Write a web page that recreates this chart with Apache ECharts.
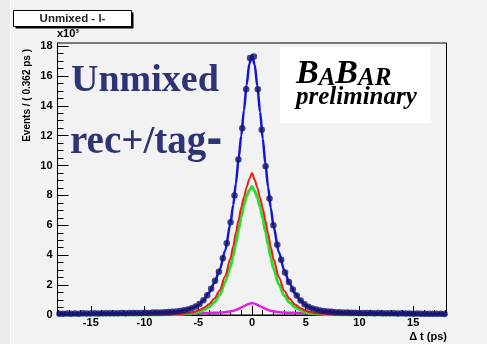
<!DOCTYPE html>
<html>
<head>
<meta charset="utf-8">
<script src="https://cdn.jsdelivr.net/npm/echarts@6/dist/echarts.min.js"></script>
<style>
  html, body { margin: 0; padding: 0; background: #f2f2f2; }
  #chart { width: 487px; height: 344px; }
</style>
</head>
<body>
<div id="chart"></div>
<script>
// histogram binning: 100 bins of 0.362 ps between -18.1 and 18.1
const binLow = -18.1;
const binWidth = 0.362;

// events per bin (x10^3)
const events = [
    0.09, 0.08, 0.10, 0.09, 0.10, 0.09, 0.11, 0.10, 0.10, 0.11,
    0.10, 0.11, 0.12, 0.11, 0.12, 0.12, 0.13, 0.12, 0.13, 0.14,
    0.13, 0.14, 0.15, 0.14, 0.16, 0.17, 0.17, 0.19, 0.20, 0.22,
    0.24, 0.27, 0.31, 0.37, 0.45, 0.57, 0.74, 0.98, 1.32, 1.75,
    2.30, 2.90, 3.80, 4.80, 6.20, 8.00, 10.40, 12.50, 15.10, 17.20,
    17.30, 15.10, 12.40, 9.95, 7.80, 6.00, 4.70, 3.70, 2.85, 2.20,
    1.70, 1.30, 0.97, 0.72, 0.55, 0.43, 0.36, 0.30, 0.26, 0.23,
    0.21, 0.19, 0.18, 0.17, 0.16, 0.15, 0.15, 0.14, 0.13, 0.14,
    0.13, 0.12, 0.13, 0.12, 0.11, 0.12, 0.11, 0.10, 0.11, 0.10,
    0.10, 0.09, 0.10, 0.09, 0.09, 0.08, 0.09, 0.08, 0.08, 0.07
];

// fitted curves sampled at these Δt values
const curveX = [
    -18.1, -16, -14, -12, -10, -9, -8, -7, -6, -5.5, -5, -4.5, -4, -3.5, -3, -2.5,
    -2, -1.75, -1.5, -1.25, -1, -0.75, -0.5, -0.25, 0, 0.25, 0.5, 0.75, 1, 1.25,
    1.5, 1.75, 2, 2.5, 3, 3.5, 4, 4.5, 5, 5.5, 6, 7, 8, 9, 10, 12, 14, 16, 18.1
];
const totalFit = [
    0.08, 0.09, 0.11, 0.12, 0.14, 0.16, 0.19, 0.24, 0.36, 0.48, 0.67, 0.99, 1.5, 2.15, 3.05, 4.3,
    6.15, 7.35, 8.8, 10.45, 12.0, 13.7, 15.4, 16.8, 17.4, 16.75, 15.3, 13.6, 11.8, 10.1,
    8.55, 7.15, 5.95, 4.2, 3.0, 2.1, 1.45, 0.98, 0.66, 0.47, 0.35, 0.23, 0.19, 0.16, 0.14, 0.12, 0.10, 0.09, 0.07
];
const redFit = [
    0, 0, 0, 0.005, 0.01, 0.015, 0.02, 0.05, 0.12, 0.19, 0.3, 0.47, 0.72, 1.1, 1.65, 2.6,
    3.8, 4.6, 5.5, 6.35, 7.2, 7.9, 8.55, 9.1, 9.5, 9.05, 8.5, 7.85, 7.15, 6.3,
    5.45, 4.55, 3.75, 2.55, 1.62, 1.08, 0.7, 0.46, 0.29, 0.18, 0.11, 0.05, 0.02, 0.015, 0.01, 0.005, 0, 0, 0
];
const greenFit = [
    0, 0, 0, 0, 0, 0.005, 0.01, 0.03, 0.08, 0.13, 0.2, 0.34, 0.53, 0.85, 1.35, 2.2,
    3.25, 3.95, 4.8, 5.7, 6.55, 7.35, 7.95, 8.35, 8.6, 8.3, 7.85, 7.25, 6.45, 5.6,
    4.7, 3.85, 3.1, 2.05, 1.28, 0.83, 0.52, 0.33, 0.19, 0.12, 0.07, 0.03, 0.01, 0.005, 0, 0, 0, 0, 0
];
const magentaFit = [
    0.08, 0.085, 0.09, 0.095, 0.10, 0.105, 0.11, 0.115, 0.12, 0.125, 0.13, 0.135, 0.14, 0.15, 0.16, 0.19,
    0.24, 0.28, 0.34, 0.42, 0.50, 0.59, 0.68, 0.76, 0.80, 0.76, 0.68, 0.59, 0.50, 0.42,
    0.34, 0.28, 0.24, 0.19, 0.16, 0.15, 0.14, 0.135, 0.13, 0.125, 0.12, 0.115, 0.11, 0.105, 0.10, 0.095, 0.09, 0.085, 0.08
];

// tick positions
const xMajorTicks = [-15, -10, -5, 0, 5, 10, 15];
const xMinorTicks = [-18, -17, -16, -14, -13, -12, -11, -9, -8, -7, -6, -4, -3, -2, -1,
    1, 2, 3, 4, 6, 7, 8, 9, 11, 12, 13, 14, 16, 17, 18];
const yMajorTicks = [0, 2, 4, 6, 8, 10, 12, 14, 16, 18];
const yMinorTicks = [0.5, 1, 1.5, 2.5, 3, 3.5, 4.5, 5, 5.5, 6.5, 7, 7.5, 8.5, 9, 9.5,
    10.5, 11, 11.5, 12.5, 13, 13.5, 14.5, 15, 15.5, 16.5, 17, 17.5];

const xMin = -18.1, xMax = 18.1, yMin = 0, yMax = 18.2;

const points = events.map((v, i) => [binLow + binWidth * (i + 0.5), v]);
const pairs = arr => curveX.map((x, i) => [x, arr[i]]);

const chart = echarts.init(document.getElementById('chart'));

const labelFont = { fontFamily: 'Liberation Sans', fontWeight: 'bold', fontSize: 11, color: '#000' };
const axisLine = { show: true, onZero: false, lineStyle: { color: '#000', width: 1 } };

const option = {
    backgroundColor: '#f2f2f2',
    animation: false,
    grid: {
        left: 57.5, right: 40.5, top: 43, bottom: 29,
        show: true, borderColor: '#000', borderWidth: 1, backgroundColor: 'transparent'
    },
    xAxis: [
        {
            type: 'value', min: xMin, max: xMax,
            axisLine: axisLine,
            axisTick: { show: true, inside: true, length: 5, customValues: xMinorTicks, lineStyle: { color: '#000' } },
            axisLabel: { show: false },
            splitLine: { show: false }
        },
        {
            type: 'value', min: xMin, max: xMax, position: 'bottom',
            axisLine: axisLine,
            axisTick: { show: true, inside: true, length: 9, customValues: xMajorTicks, lineStyle: { color: '#000' } },
            axisLabel: Object.assign({ margin: 2, customValues: xMajorTicks }, labelFont),
            splitLine: { show: false }
        }
    ],
    yAxis: [
        {
            type: 'value', min: yMin, max: yMax,
            axisLine: axisLine,
            axisTick: { show: true, inside: true, length: 6, customValues: yMinorTicks, lineStyle: { color: '#000' } },
            axisLabel: { show: false },
            splitLine: { show: false }
        },
        {
            type: 'value', min: yMin, max: yMax, position: 'left',
            axisLine: axisLine,
            axisTick: { show: true, inside: true, length: 11, customValues: yMajorTicks, lineStyle: { color: '#000' } },
            axisLabel: Object.assign({ margin: 5, customValues: yMajorTicks }, labelFont),
            splitLine: { show: false }
        }
    ],
    series: [
        {
            type: 'line', data: pairs(magentaFit), showSymbol: false, smooth: 0.3, smoothMonotone: 'x',
            lineStyle: { color: '#e020e0', width: 2.5 }, z: 3
        },
        {
            type: 'line', data: pairs(greenFit), showSymbol: false, smooth: 0.3, smoothMonotone: 'x',
            lineStyle: { color: '#2ddc2d', width: 3 }, z: 3
        },
        {
            type: 'line', data: pairs(redFit), showSymbol: false, smooth: 0.3, smoothMonotone: 'x',
            lineStyle: { color: '#ee1a1a', width: 2 }, z: 3
        },
        {
            type: 'line', data: pairs(totalFit), showSymbol: false, smooth: 0.3, smoothMonotone: 'x',
            lineStyle: { color: '#1414dc', width: 2.5 }, z: 4
        },
        {
            type: 'scatter', data: points, symbol: 'circle', symbolSize: 6.5,
            itemStyle: { color: '#15156e' }, z: 5
        }
    ],
    graphic: [
        { type: 'rect', shape: { x: 0, y: 0, width: 10, height: 344 }, style: { fill: '#ebebeb' }, silent: true },
        { type: 'line', shape: { x1: 10.5, y1: 0, x2: 10.5, y2: 344 }, style: { stroke: '#fbfbfb', lineWidth: 1 }, silent: true },
        // title box with shadow
        { type: 'rect', shape: { x: 15.5, y: 12.5, width: 118, height: 16 }, style: { fill: '#000' } },
        { type: 'rect', shape: { x: 13.5, y: 10.5, width: 118, height: 16 }, style: { fill: '#fff', stroke: '#000', lineWidth: 1 } },
        {
            type: 'text', x: 72.5, y: 18.5,
            style: { text: 'Unmixed - l-', fill: '#222', font: 'bold 11.5px "Liberation Sans"', textAlign: 'center', textVerticalAlign: 'middle' }
        },
        {
            type: 'text', x: 57, y: 34,
            style: { text: 'x10³', fill: '#000', font: 'bold 11px "Liberation Sans"', textAlign: 'left', textVerticalAlign: 'middle' }
        },
        {
            type: 'text', x: 27, y: 49, rotation: Math.PI / 2,
            style: { text: 'Events / ( 0.362 ps )', fill: '#000', font: 'bold 10px "Liberation Sans"', textAlign: 'right', textVerticalAlign: 'middle' }
        },
        {
            type: 'text', x: 447, y: 337,
            style: { text: 'Δ t (ps)', fill: '#000', font: 'bold 11px "Liberation Sans"', textAlign: 'right', textVerticalAlign: 'middle' }
        },
        // big labels
        {
            type: 'text', x: 71, y: 100, z: 10,
            style: { text: 'Unmixed', fill: '#2e3473', font: 'bold 38px "Liberation Serif"', textAlign: 'left', textVerticalAlign: 'bottom' }
        },
        {
            type: 'text', x: 70, y: 162, z: 10,
            style: {
                text: '{t|rec+/tag}{d|-}', textAlign: 'left', textVerticalAlign: 'bottom',
                rich: {
                    t: { font: 'bold 39px "Liberation Serif"', fill: '#2e3473', verticalAlign: 'bottom' },
                    d: { font: 'bold 39px "DejaVu Sans"', fill: '#2e3473', verticalAlign: 'bottom' }
                }
            }
        },
        // BaBar logo
        { type: 'rect', shape: { x: 280, y: 47, width: 151, height: 76 }, style: { fill: '#fff' }, z: 10 },
        {
            type: 'text', x: 296, y: 91, z: 11,
            style: {
                text: '{b|B}{s|A}{b|B}{s|AR}',
                textAlign: 'left', textVerticalAlign: 'bottom',
                rich: {
                    b: { font: 'bold italic 34px "Liberation Serif"', fill: '#000', verticalAlign: 'bottom' },
                    s: { font: 'bold italic 25px "Liberation Serif"', fill: '#000', verticalAlign: 'bottom' }
                }
            }
        },
        {
            type: 'text', x: 296, y: 110, z: 11,
            style: { text: 'preliminary', fill: '#000', font: 'bold italic 25px "Liberation Serif"', textAlign: 'left', textVerticalAlign: 'bottom' }
        }
    ]
};

chart.setOption(option);
</script>
</body>
</html>
